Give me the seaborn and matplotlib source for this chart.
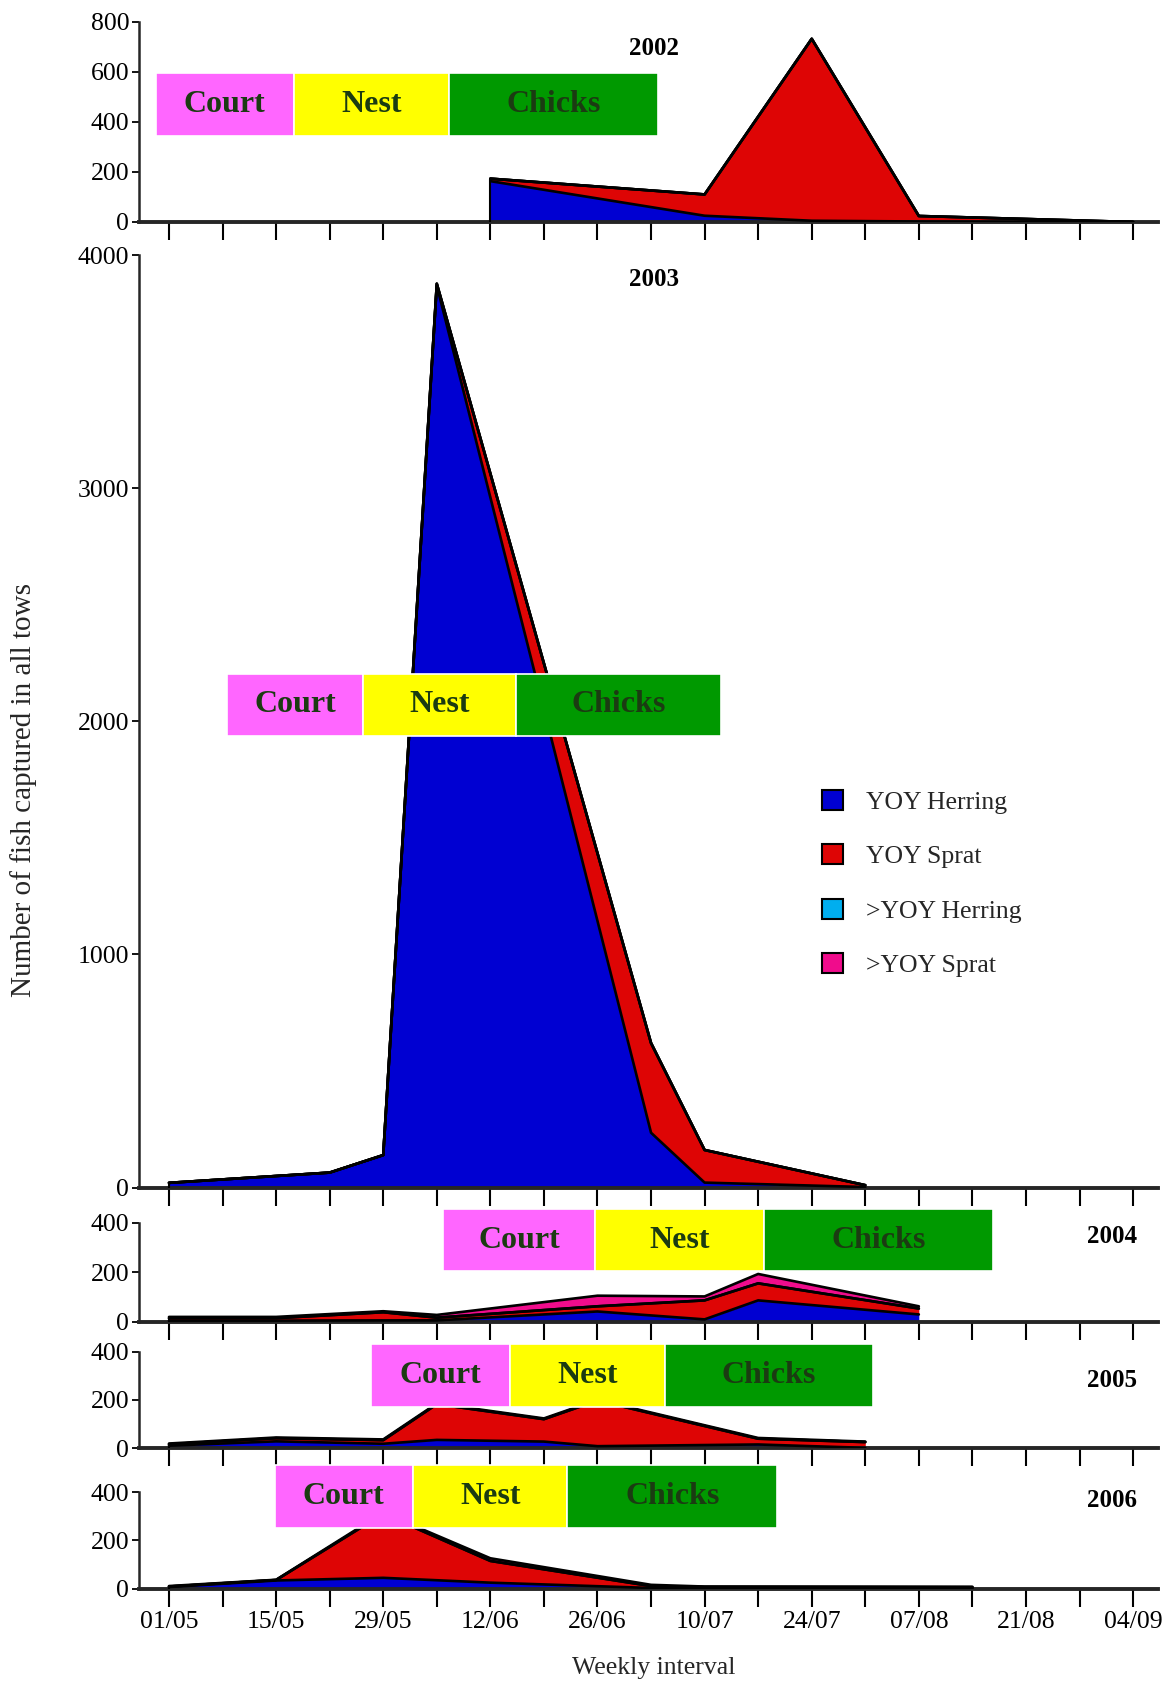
import numpy as np
import pandas as pd
import matplotlib
matplotlib.use("Agg")
import matplotlib.pyplot as plt
import seaborn as sns
from matplotlib.patches import Patch, Rectangle

# ---------------- data ----------------
week_labels = ["01/05", "", "15/05", "", "29/05", "", "12/06", "", "26/06", "",
               "10/07", "", "24/07", "", "07/08", "", "21/08", "", "04/09"]
series_names = ["YOY Herring", "YOY Sprat", ">YOY Herring", ">YOY Sprat"]
series_colors = ["#0000D2", "#DE0505", "#00AEEF", "#F00C8C"]
years = ["2002", "2003", "2004", "2005", "2006"]

weeks_2002 = [6, 10, 12, 14, 18]
herring_2002 = [163, 25, 5, 2, 0]
sprat_2002 = [10, 85, 726, 22, 0]
herring_old_2002 = [0, 0, 0, 0, 0]
sprat_old_2002 = [0, 0, 0, 0, 0]

weeks_2003 = [0, 3, 4, 5, 9, 10, 13]
herring_2003 = [20, 64, 139, 3870, 235, 21, 2]
sprat_2003 = [0, 0, 0, 8, 385, 140, 8]
herring_old_2003 = [0, 0, 0, 0, 0, 0, 0]
sprat_old_2003 = [0, 0, 0, 0, 0, 0, 0]

weeks_2004 = [0, 2, 4, 5, 8, 10, 11, 14]
herring_2004 = [4, 4, 5, 5, 41, 9, 86, 29]
sprat_2004 = [10, 10, 33, 11, 21, 77, 69, 24]
herring_old_2004 = [0, 0, 0, 0, 0, 0, 0, 0]
sprat_old_2004 = [5, 5, 4, 11, 43, 16, 38, 9]

weeks_2005 = [0, 2, 4, 5, 7, 8, 11, 13]
herring_2005 = [10, 28, 18, 34, 27, 8, 15, 1]
sprat_2005 = [6, 13, 15, 148, 93, 189, 24, 24]
herring_old_2005 = [0, 0, 0, 0, 0, 0, 0, 0]
sprat_old_2005 = [3, 3, 3, 3, 3, 3, 3, 2]

weeks_2006 = [0, 2, 4, 6, 9, 10, 15]
herring_2006 = [7, 34, 45, 25, 3, 2, 2]
sprat_2006 = [2, 2, 265, 90, 8, 5, 4]
herring_old_2006 = [0, 0, 0, 0, 0, 0, 0]
sprat_old_2006 = [2, 1, 5, 11, 5, 2, 2]

# breeding phase boxes: edges in weeks and vertical extent in data units
phase_names = ["Court", "Nest", "Chicks"]
phase_colors = ["#FF66FF", "#FFFF00", "#009900"]
phase_edges = {
    "2002": [-0.25, 2.33, 5.22, 9.13],
    "2003": [1.09, 3.63, 6.48, 10.30],
    "2004": [5.12, 7.96, 11.11, 15.39],
    "2005": [3.78, 6.36, 9.26, 13.15],
    "2006": [1.97, 4.56, 7.44, 11.35],
}
phase_yrange = {
    "2002": [343, 594],
    "2003": [1938, 2205],
    "2004": [204, 456],
    "2005": [169, 431],
    "2006": [253, 511],
}
year_label_pos = {
    "2002": (9.06, 694),
    "2003": (9.06, 3898),
    "2004": (17.6, 344),
    "2005": (17.6, 280),
    "2006": (17.6, 365),
}
y_max = {"2002": 800, "2003": 4000, "2004": 400, "2005": 400, "2006": 400}
y_step = {"2002": 200, "2003": 1000, "2004": 200, "2005": 200, "2006": 200}

data = {
    "2002": (weeks_2002, [herring_2002, sprat_2002, herring_old_2002, sprat_old_2002]),
    "2003": (weeks_2003, [herring_2003, sprat_2003, herring_old_2003, sprat_old_2003]),
    "2004": (weeks_2004, [herring_2004, sprat_2004, herring_old_2004, sprat_old_2004]),
    "2005": (weeks_2005, [herring_2005, sprat_2005, herring_old_2005, sprat_old_2005]),
    "2006": (weeks_2006, [herring_2006, sprat_2006, herring_old_2006, sprat_old_2006]),
}

# ---------------- style ----------------
sns.set_theme(style="ticks")
plt.rcParams['font.family'] = ['Liberation Serif', 'DejaVu Serif']
plt.rcParams['axes.linewidth'] = 1.8
plt.rcParams['xtick.color'] = 'black'
plt.rcParams['ytick.color'] = 'black'

W, H = 1165, 1682
fig = plt.figure(figsize=(W / 100, H / 100), dpi=100)

left_px, right_px = 139, 1158
# (top pixel of ymax, pixel of zero)
panel_px = {
    "2002": (21.5, 222.0),
    "2003": (255.3, 1187.5),
    "2004": (1222.9, 1321.6),
    "2005": (1351.6, 1448.1),
    "2006": (1492.1, 1588.7),
}
x_left_wk = (left_px - 169) / 53.56
x_right_wk = (right_px - 169) / 53.56

tick_fs = 18.5
for i, yr in enumerate(years):
    top, bot = panel_px[yr]
    ax = fig.add_axes([left_px / W, 1 - bot / H, (right_px - left_px) / W, (bot - top) / H])
    wk, layers = data[yr]
    wk = np.array(wk, dtype=float)
    arr = np.array(layers, dtype=float)
    cum = np.cumsum(arr, axis=0)
    base = np.zeros_like(wk)
    for j in range(arr.shape[0]):
        ax.fill_between(wk, base, cum[j], color=series_colors[j], linewidth=0, zorder=2)
        base = cum[j]
    # outlines of each stacked layer, drawn with seaborn
    df = pd.DataFrame({
        "week": np.tile(wk, arr.shape[0]),
        "cum": cum.ravel(),
        "layer": np.repeat(np.arange(arr.shape[0]), len(wk)),
    })
    sns.lineplot(data=df, x="week", y="cum", units="layer", estimator=None,
                 color="black", linewidth=1.9, ax=ax, zorder=3, legend=False)
    ax.vlines(wk[0], 0, cum[-1][0], color="black", linewidth=1.5, zorder=3)

    ax.set_xlim(x_left_wk, x_right_wk)
    ax.set_ylim(0, y_max[yr])
    ax.set_yticks(np.arange(0, y_max[yr] + 1, y_step[yr]))
    ax.set_xticks(np.arange(19))
    if yr == "2006":
        ax.set_xticklabels(week_labels, fontsize=tick_fs)
    else:
        ax.set_xticklabels([])
    ax.tick_params(axis='y', labelsize=tick_fs, length=5, width=1.3, pad=2)
    ax.tick_params(axis='x', length=13, width=1.5, pad=3, direction='out')
    ax.set_xlabel("")
    ax.set_ylabel("")
    sns.despine(ax=ax)
    ax.spines['bottom'].set_linewidth(2.8)
    ax.spines['left'].set_linewidth(1.8)
    ax.set_facecolor("white")

    # phase boxes
    edges = phase_edges[yr]
    y0, y1 = phase_yrange[yr]
    for k in range(3):
        ax.add_patch(Rectangle((edges[k], y0), edges[k + 1] - edges[k], y1 - y0,
                               facecolor=phase_colors[k], edgecolor="white", linewidth=1.2,
                               clip_on=False, zorder=5))
        ax.text((edges[k] + edges[k + 1]) / 2, (y0 + y1) / 2, phase_names[k],
                ha="center", va="center", fontsize=23, fontweight="bold",
                color="#1B3B12", zorder=6, clip_on=False)
    xl, yl = year_label_pos[yr]
    ax.text(xl, yl, yr, ha="center", va="center", fontsize=18, fontweight="bold",
            color="black", zorder=6, clip_on=False)

handles = [Patch(facecolor=c, edgecolor="black", linewidth=1.5) for c in series_colors]
fig.legend(handles, series_names, loc="upper left",
           bbox_to_anchor=(822 / W, 1 - 790 / H), frameon=False, fontsize=18.5,
           handlelength=0.82, handleheight=0.82, handletextpad=0.9,
           labelspacing=1.19, borderpad=0, borderaxespad=0)

fig.text(24 / W, 1 - 790 / H, "Number of fish captured in all tows", rotation=90,
         ha="center", va="center", fontsize=21)
fig.text(654 / W, 1 - 1668 / H, "Weekly interval", ha="center", va="center", fontsize=18.5)

fig.savefig("out.png", dpi=100, facecolor="white")
